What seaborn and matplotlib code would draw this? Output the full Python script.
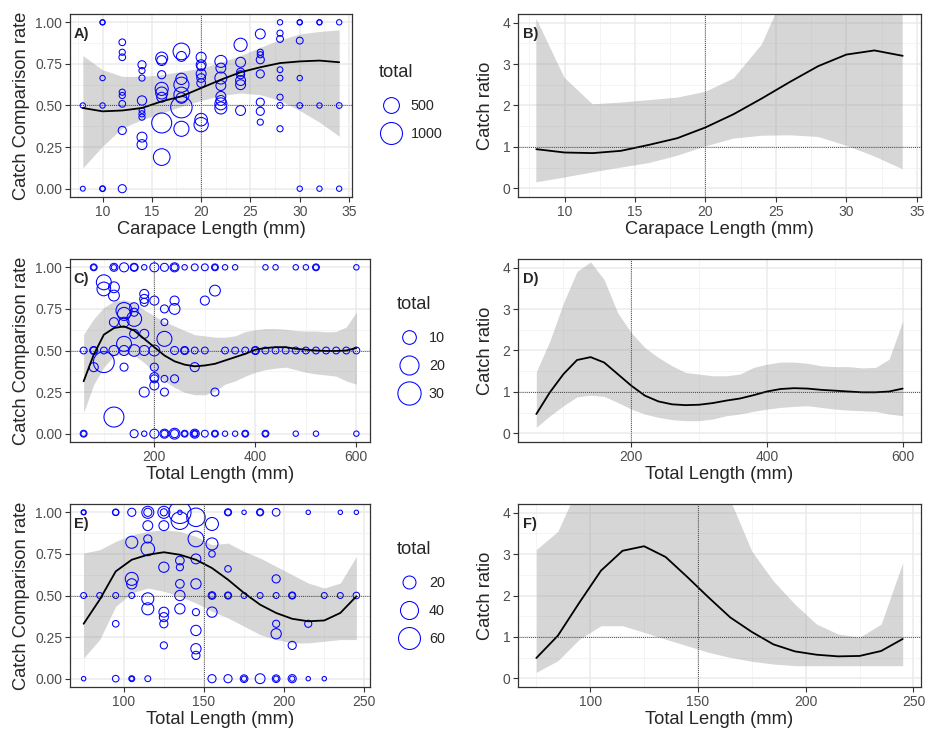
import numpy as np
import pandas as pd
import matplotlib
matplotlib.use("Agg")
import matplotlib.pyplot as plt
from matplotlib.lines import Line2D
from matplotlib.ticker import FixedLocator
import seaborn as sns

# ---------------- data ----------------
# Panel A: (carapace length mm, catch comparison rate, total)
a_points = [
    (8, 0.5, 20), (8, 0.0, 10),
    (10, 1.0, 20), (10, 1.0, 10), (10, 0.665, 20), (10, 0.5, 20), (10, 0.0, 30), (10, 0.0, 15),
    (12, 0.88, 55), (12, 0.82, 40), (12, 0.79, 55), (12, 0.58, 40), (12, 0.56, 40), (12, 0.51, 55),
    (12, 0.35, 100), (12, 0.0, 100),
    (14, 0.745, 100), (14, 0.71, 40), (14, 0.665, 40), (14, 0.53, 145), (14, 0.47, 30), (14, 0.45, 40),
    (14, 0.43, 40), (14, 0.31, 170), (14, 0.265, 170),
    (16, 0.785, 270), (16, 0.77, 170), (16, 0.685, 100), (16, 0.60, 330), (16, 0.575, 270), (16, 0.55, 170),
    (16, 0.395, 820), (16, 0.19, 560),
    (18, 0.825, 560), (18, 0.795, 170), (18, 0.66, 230), (18, 0.625, 450), (18, 0.565, 450), (18, 0.545, 200),
    (18, 0.49, 950), (18, 0.36, 450),
    (20, 0.79, 175), (20, 0.745, 170), (20, 0.735, 120), (20, 0.69, 170), (20, 0.665, 120), (20, 0.635, 120),
    (20, 0.415, 300), (20, 0.385, 400),
    (22, 0.765, 270), (22, 0.725, 170), (22, 0.665, 270), (22, 0.62, 170), (22, 0.555, 170), (22, 0.53, 170),
    (22, 0.51, 270), (22, 0.485, 270),
    (24, 0.865, 330), (24, 0.76, 170), (24, 0.70, 100), (24, 0.685, 100), (24, 0.65, 170), (24, 0.625, 170),
    (24, 0.47, 170),
    (26, 0.93, 170), (26, 0.82, 40), (26, 0.805, 40), (26, 0.775, 100), (26, 0.69, 100), (26, 0.52, 100),
    (26, 0.465, 100), (26, 0.40, 40),
    (28, 1.0, 20), (28, 0.935, 40), (28, 0.90, 60), (28, 0.715, 30), (28, 0.665, 30), (28, 0.55, 40),
    (28, 0.5, 40), (28, 0.36, 40),
    (30, 1.0, 20), (30, 1.0, 10), (30, 0.89, 60), (30, 0.665, 20), (30, 0.5, 30), (30, 0.0, 20),
    (32, 1.0, 20), (32, 1.0, 10), (32, 0.5, 20), (32, 0.0, 20),
    (34, 1.0, 20), (34, 0.5, 30), (34, 0.0, 20),
]
a_x = [8, 10, 12, 14, 16, 18, 20, 22, 24, 26, 28, 30, 32, 34]
a_fit = [0.485, 0.465, 0.47, 0.485, 0.525, 0.555, 0.605, 0.655, 0.70, 0.73, 0.755, 0.765, 0.77, 0.76]
a_lo = [0.125, 0.255, 0.365, 0.415, 0.455, 0.495, 0.53, 0.56, 0.575, 0.565, 0.53, 0.47, 0.40, 0.315]
a_hi = [0.80, 0.715, 0.675, 0.675, 0.685, 0.705, 0.725, 0.76, 0.80, 0.85, 0.895, 0.93, 0.945, 0.955]

# Panel B: catch ratio
b_fit = [0.945, 0.865, 0.85, 0.905, 1.05, 1.21, 1.47, 1.79, 2.17, 2.57, 2.95, 3.23, 3.33, 3.2]
b_lo = [0.145, 0.26, 0.385, 0.5, 0.61, 0.785, 1.01, 1.2, 1.27, 1.28, 1.24, 1.03, 0.77, 0.46]
b_hi = [4.1, 2.67, 2.03, 2.07, 2.13, 2.19, 2.33, 2.65, 3.47, 5.0, 8.0, 12.0, 16.0, 20.0]

# Panel C: (total length mm, rate, total)
c_points = [
    (80, 1.0, 2), (80, 1.0, 1), (120, 1.0, 3), (120, 1.0, 1), (140, 1.0, 4), (160, 1.0, 3), (160, 1.0, 2),
    (180, 1.0, 1), (200, 1.0, 4), (220, 1.0, 3), (240, 1.0, 4), (240, 1.0, 2), (260, 1.0, 1), (280, 1.0, 2),
    (300, 1.0, 2), (320, 1.0, 2), (320, 1.0, 1), (340, 1.0, 1), (360, 1.0, 1), (420, 1.0, 1), (440, 1.0, 1),
    (480, 1.0, 1), (500, 1.0, 1), (520, 1.0, 2), (520, 1.0, 1), (600, 1.0, 1),
    (100, 0.91, 12), (100, 0.87, 10), (120, 0.88, 6), (120, 0.83, 6), (180, 0.84, 4), (180, 0.81, 4),
    (180, 0.79, 3), (200, 0.80, 4), (240, 0.80, 4), (240, 0.75, 6), (220, 0.75, 3), (300, 0.80, 4),
    (320, 0.86, 6), (140, 0.74, 14), (140, 0.72, 9), (160, 0.76, 4), (160, 0.73, 3), (120, 0.67, 4),
    (140, 0.67, 5), (160, 0.69, 12), (160, 0.60, 4), (180, 0.60, 4), (220, 0.67, 2), (220, 0.57, 12),
    (60, 0.5, 2), (80, 0.5, 2), (80, 0.5, 3), (100, 0.5, 2), (120, 0.5, 5), (140, 0.54, 12), (140, 0.5, 5),
    (160, 0.5, 7), (180, 0.5, 5), (200, 0.5, 6), (240, 0.5, 3), (260, 0.5, 3), (260, 0.5, 2), (280, 0.5, 2),
    (300, 0.5, 2), (340, 0.5, 2), (360, 0.5, 2), (380, 0.5, 2), (400, 0.5, 3), (400, 0.5, 2), (420, 0.5, 2),
    (440, 0.5, 2), (460, 0.5, 2), (480, 0.5, 2), (500, 0.5, 2), (520, 0.5, 2), (540, 0.5, 2), (560, 0.5, 2),
    (580, 0.5, 2), (600, 0.5, 2),
    (80, 0.40, 4), (100, 0.43, 24), (140, 0.40, 3), (200, 0.40, 3), (200, 0.34, 4), (200, 0.33, 3),
    (200, 0.29, 4), (220, 0.33, 2), (240, 0.33, 3), (280, 0.40, 4), (180, 0.25, 5), (220, 0.25, 3),
    (320, 0.25, 3), (120, 0.10, 22),
    (60, 0.0, 2), (60, 0.0, 1), (160, 0.0, 3), (180, 0.0, 1), (200, 0.0, 4), (220, 0.0, 4), (220, 0.0, 2),
    (240, 0.0, 6), (240, 0.0, 3), (260, 0.0, 2), (260, 0.0, 1), (280, 0.0, 4), (280, 0.0, 2), (280, 0.0, 1),
    (300, 0.0, 2), (320, 0.0, 2), (320, 0.0, 1), (340, 0.0, 1), (360, 0.0, 1), (380, 0.0, 2), (380, 0.0, 1),
    (420, 0.0, 2), (420, 0.0, 1), (480, 0.0, 1), (520, 0.0, 1), (600, 0.0, 1),
]
c_x = [60, 80, 100, 120, 140, 160, 180, 200, 220, 240, 260, 280, 300, 320, 340, 360, 380, 400,
       420, 440, 460, 480, 500, 520, 540, 560, 580, 600]
c_fit = [0.315, 0.475, 0.595, 0.635, 0.645, 0.62, 0.57, 0.52, 0.47, 0.435, 0.415, 0.405, 0.41, 0.42,
         0.44, 0.46, 0.48, 0.505, 0.515, 0.52, 0.52, 0.51, 0.505, 0.50, 0.497, 0.497, 0.50, 0.515]
c_lo = [0.127, 0.296, 0.40, 0.468, 0.479, 0.471, 0.427, 0.369, 0.317, 0.278, 0.248, 0.234, 0.234, 0.257,
        0.298, 0.317, 0.346, 0.369, 0.385, 0.394, 0.40, 0.385, 0.369, 0.359, 0.353, 0.346, 0.317, 0.298]
c_hi = [0.598, 0.69, 0.759, 0.796, 0.805, 0.788, 0.744, 0.708, 0.674, 0.647, 0.62, 0.595, 0.588, 0.58,
        0.58, 0.588, 0.614, 0.625, 0.632, 0.632, 0.628, 0.62, 0.617, 0.617, 0.612, 0.614, 0.642, 0.73]

# Panel D
d_fit = [0.465, 0.99, 1.43, 1.77, 1.84, 1.71, 1.43, 1.15, 0.91, 0.77, 0.70, 0.68, 0.69, 0.73,
         0.79, 0.84, 0.92, 1.01, 1.07, 1.09, 1.08, 1.05, 1.03, 1.01, 0.99, 0.99, 1.01, 1.08]
d_lo = [0.145, 0.42, 0.665, 0.88, 0.92, 0.89, 0.745, 0.585, 0.465, 0.385, 0.33, 0.305, 0.305, 0.345,
        0.425, 0.465, 0.53, 0.585, 0.625, 0.65, 0.665, 0.625, 0.585, 0.56, 0.545, 0.53, 0.465, 0.425]
d_hi = [1.49, 2.23, 3.15, 3.91, 4.14, 3.71, 2.91, 2.43, 2.07, 1.83, 1.63, 1.47, 1.43, 1.39,
        1.39, 1.43, 1.59, 1.67, 1.72, 1.72, 1.69, 1.63, 1.61, 1.61, 1.58, 1.59, 1.79, 2.71]

# Panel E
e_points = [
    (75, 1.0, 2), (75, 1.0, 1), (95, 1.0, 4), (95, 1.0, 3), (105, 1.0, 7), (115, 1.0, 17), (115, 1.0, 7),
    (125, 1.0, 17), (125, 1.0, 5), (135, 1.0, 62), (135, 1.0, 1), (135, 0.95, 38), (145, 0.97, 42),
    (155, 0.93, 20), (165, 1.0, 5), (165, 1.0, 3), (175, 1.0, 1), (185, 1.0, 5), (185, 1.0, 3),
    (195, 1.0, 6), (215, 1.0, 1), (235, 1.0, 1), (245, 1.0, 1),
    (115, 0.92, 11), (125, 0.92, 11), (105, 0.82, 17), (115, 0.84, 7), (115, 0.78, 22), (145, 0.84, 30),
    (155, 0.81, 17), (155, 0.75, 4), (125, 0.67, 12), (135, 0.71, 8), (135, 0.67, 5), (145, 0.72, 11),
    (105, 0.60, 20), (105, 0.57, 12), (135, 0.57, 8), (145, 0.57, 12), (165, 0.66, 4), (195, 0.60, 7),
    (75, 0.5, 3), (85, 0.5, 3), (95, 0.5, 3), (105, 0.5, 3), (115, 0.48, 17), (115, 0.42, 17),
    (135, 0.5, 12), (135, 0.42, 12), (155, 0.5, 6), (155, 0.5, 3), (155, 0.40, 12), (165, 0.5, 5),
    (165, 0.5, 3), (175, 0.5, 3), (185, 0.5, 3), (195, 0.5, 3), (205, 0.5, 5), (205, 0.5, 3),
    (225, 0.5, 3), (235, 0.5, 3), (245, 0.5, 4),
    (125, 0.40, 11), (125, 0.37, 9), (125, 0.33, 7), (95, 0.33, 4), (145, 0.40, 5), (145, 0.29, 12),
    (145, 0.18, 12), (145, 0.14, 7), (125, 0.20, 5), (195, 0.33, 5), (195, 0.27, 12), (205, 0.20, 7),
    (215, 0.33, 5),
    (75, 0.0, 1), (95, 0.0, 4), (105, 0.0, 3), (105, 0.0, 1), (115, 0.0, 3), (155, 0.0, 7), (165, 0.0, 7),
    (175, 0.0, 6), (175, 0.0, 2), (185, 0.0, 11), (195, 0.0, 6), (195, 0.0, 2), (205, 0.0, 7),
    (205, 0.0, 2), (215, 0.0, 1), (225, 0.0, 1),
]
e_x = [75, 85, 95, 105, 115, 125, 135, 145, 155, 165, 175, 185, 195, 205, 215, 225, 235, 245]
e_fit = [0.33, 0.475, 0.645, 0.715, 0.745, 0.76, 0.745, 0.715, 0.665, 0.595, 0.515, 0.445, 0.395,
         0.36, 0.345, 0.35, 0.395, 0.495]
e_lo = [0.125, 0.235, 0.435, 0.515, 0.545, 0.525, 0.495, 0.455, 0.405, 0.365, 0.315, 0.265, 0.235,
        0.215, 0.215, 0.225, 0.235, 0.235]
e_hi = [0.755, 0.775, 0.825, 0.865, 0.885, 0.895, 0.885, 0.855, 0.805, 0.815, 0.765, 0.725, 0.675,
        0.625, 0.575, 0.545, 0.575, 0.735]

# Panel F
f_fit = [0.49, 1.03, 1.83, 2.6, 3.08, 3.19, 2.93, 2.45, 1.95, 1.47, 1.12, 0.82, 0.65, 0.57, 0.53,
         0.54, 0.66, 0.95]
f_lo = [0.145, 0.425, 0.945, 1.27, 1.27, 1.11, 0.945, 0.785, 0.625, 0.505, 0.41, 0.345, 0.305,
        0.305, 0.305, 0.305, 0.305, 0.305]
f_hi = [3.11, 3.55, 4.7, 6.4, 7.7, 8.5, 7.7, 5.9, 4.9, 4.3, 3.07, 2.35, 1.79, 1.31, 1.07, 0.99,
        1.31, 2.79]

# ---------------- style ----------------
sns.set_theme(style="white")
plt.rcParams['font.family'] = ['Liberation Sans', 'DejaVu Sans']

W, H = 933, 731
fig = plt.figure(figsize=(W / 100, H / 100), dpi=100)
fig.patch.set_facecolor('white')


def px_axes(l, t, r, b):
    return fig.add_axes([l / W, 1 - b / H, (r - l) / W, (b - t) / H])


BLUE = '#0000FF'
TICK_FS = 10.0
LAB_FS = 13.2
RIGHT = 921


def base_style(ax, xlim, ylim, xmaj, xmin, ymaj, ymin, yfmt):
    ax.set_xlim(*xlim)
    ax.set_ylim(*ylim)
    ax.xaxis.set_major_locator(FixedLocator(xmaj))
    ax.xaxis.set_minor_locator(FixedLocator(xmin))
    ax.yaxis.set_major_locator(FixedLocator(ymaj))
    ax.yaxis.set_minor_locator(FixedLocator(ymin))
    ax.set_xticklabels([str(v) for v in xmaj])
    ax.set_yticklabels([yfmt.format(v) for v in ymaj])
    ax.set_facecolor('white')
    ax.grid(which='major', color='#EBEBEB', lw=1.1)
    ax.grid(which='minor', color='#F2F2F2', lw=0.6)
    ax.set_axisbelow(True)
    for s in ax.spines.values():
        s.set_color('#333333')
        s.set_linewidth(0.9)
    ax.tick_params(which='major', length=3.5, width=0.8, color='#333333',
                   labelsize=TICK_FS, labelcolor='#4D4D4D', pad=2, bottom=True, left=True)
    ax.tick_params(which='minor', length=0)


def ref_lines(ax, h, v):
    ax.axhline(h, color='#333333', ls=(0, (1, 1.3)), lw=0.65, zorder=5)
    ax.axvline(v, color='#333333', ls=(0, (1, 1.3)), lw=0.65, zorder=5)


def rate_panel(ax, pts, xs, fit, lo, hi, norm, sizes):
    df = pd.DataFrame(pts, columns=['len', 'rate', 'total'])
    ax.fill_between(xs, lo, hi, color='#999999', alpha=0.4, lw=0, zorder=1)
    sns.scatterplot(data=df, x='len', y='rate', size='total', sizes=sizes, size_norm=norm,
                    facecolors='none', edgecolor=BLUE, linewidth=0.75, legend=False, ax=ax, zorder=3)
    sns.lineplot(x=xs, y=fit, color='black', lw=1.3, ax=ax, zorder=4, estimator=None, sort=False)
    ax.set_ylabel('Catch Comparison rate', fontsize=LAB_FS, labelpad=4)


def ratio_panel(ax, xs, fit, lo, hi):
    ax.fill_between(xs, lo, hi, color='#999999', alpha=0.4, lw=0, zorder=1)
    sns.lineplot(x=xs, y=fit, color='black', lw=1.3, ax=ax, zorder=4, estimator=None, sort=False)
    ax.set_ylabel('Catch ratio', fontsize=LAB_FS, labelpad=6)


def size_legend(values, norm, sizes, left, top):
    handles = []
    for v in values:
        s = sizes[0] + (v - norm[0]) / (norm[1] - norm[0]) * (sizes[1] - sizes[0])
        handles.append(Line2D([], [], ls='none', marker='o', markersize=np.sqrt(s),
                              markerfacecolor='none', markeredgecolor=BLUE, markeredgewidth=0.75))
    leg = fig.legend(handles, [str(v) for v in values], title='total', loc='upper left',
                     bbox_to_anchor=(left / W, 1 - top / H), frameon=False, fontsize=10.4,
                     title_fontsize=LAB_FS, labelspacing=0.97, handletextpad=0.6,
                     borderpad=0, borderaxespad=0, handlelength=1.6)
    leg._legend_box.align = 'left'
    leg._legend_box.sep = 13
    return leg


def label(ax, txt):
    ax.text(0.012, 0.89, txt, transform=ax.transAxes, fontsize=10.5, fontweight='bold',
            ha='left', va='center', zorder=6)


ytick_rate = [0.0, 0.25, 0.5, 0.75, 1.0]
ymin_rate = [0.125, 0.375, 0.625, 0.875]
ytick_ratio = [0, 1, 2, 3, 4]
ymin_ratio = [0.5, 1.5, 2.5, 3.5]

# Row 1
axA = px_axes(70, 14, 352, 197)
rate_panel(axA, a_points, a_x, a_fit, a_lo, a_hi, (0, 1000), (10, 250))
base_style(axA, (6.7, 35.3), (-0.05, 1.05), [10, 15, 20, 25, 30, 35], [7.5, 12.5, 17.5, 22.5, 27.5, 32.5],
           ytick_rate, ymin_rate, '{:.2f}')
ref_lines(axA, 0.5, 20)
axA.set_xlabel('Carapace Length (mm)', fontsize=LAB_FS, labelpad=2)
label(axA, 'A)')
size_legend([500, 1000], (0, 1000), (10, 250), 379, 64)

axB = px_axes(518, 14, RIGHT, 197)
ratio_panel(axB, a_x, b_fit, b_lo, b_hi)
base_style(axB, (6.7, 35.3), (-0.21, 4.21), [10, 15, 20, 25, 30, 35], [7.5, 12.5, 17.5, 22.5, 27.5, 32.5],
           ytick_ratio, ymin_ratio, '{:d}')
ref_lines(axB, 1, 20)
axB.set_xlabel('Carapace Length (mm)', fontsize=LAB_FS, labelpad=2)
label(axB, 'B)')

# Row 2
axC = px_axes(70, 259, 370, 442)
rate_panel(axC, c_points, c_x, c_fit, c_lo, c_hi, (0, 30), (6, 280))
base_style(axC, (33, 627), (-0.05, 1.05), [200, 400, 600], [100, 300, 500],
           ytick_rate, ymin_rate, '{:.2f}')
ref_lines(axC, 0.5, 200)
axC.set_xlabel('Total Length (mm)', fontsize=LAB_FS, labelpad=2)
label(axC, 'C)')
size_legend([10, 20, 30], (0, 30), (6, 280), 397, 296)

axD = px_axes(518, 259, RIGHT, 442)
ratio_panel(axD, c_x, d_fit, d_lo, d_hi)
base_style(axD, (33, 627), (-0.21, 4.21), [200, 400, 600], [100, 300, 500],
           ytick_ratio, ymin_ratio, '{:d}')
ref_lines(axD, 1, 200)
axD.set_xlabel('Total Length (mm)', fontsize=LAB_FS, labelpad=2)
label(axD, 'D)')

# Row 3
axE = px_axes(70, 504, 370, 687)
rate_panel(axE, e_points, e_x, e_fit, e_lo, e_hi, (0, 65), (6, 270))
base_style(axE, (66.5, 253.5), (-0.05, 1.05), [100, 150, 200, 250], [75, 125, 175, 225],
           ytick_rate, ymin_rate, '{:.2f}')
ref_lines(axE, 0.5, 150)
axE.set_xlabel('Total Length (mm)', fontsize=LAB_FS, labelpad=2)
label(axE, 'E)')
size_legend([20, 40, 60], (0, 65), (6, 270), 397, 541)

axF = px_axes(518, 504, RIGHT, 687)
ratio_panel(axF, e_x, f_fit, f_lo, f_hi)
base_style(axF, (66.5, 253.5), (-0.21, 4.21), [100, 150, 200, 250], [75, 125, 175, 225],
           ytick_ratio, ymin_ratio, '{:d}')
ref_lines(axF, 1, 150)
axF.set_xlabel('Total Length (mm)', fontsize=LAB_FS, labelpad=2)
label(axF, 'F)')

fig.savefig('out.png', dpi=100, facecolor='white')
